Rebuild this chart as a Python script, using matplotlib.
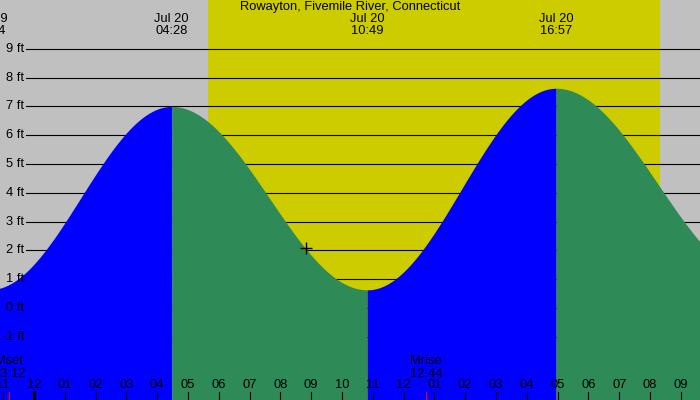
import numpy as np
import matplotlib
matplotlib.use('Agg')
import matplotlib.pyplot as plt

plt.rcParams['font.family'] = ['Liberation Sans', 'DejaVu Sans']
plt.rcParams['font.size'] = 9.3

# tide extremes, hours from midnight Jul 20
tide_times = [-1.433, 4.467, 10.817, 16.95, 23.55]
tide_heights = [0.64, 7.0, 0.63, 7.63, 1.0]
tide_labels = ['Jul 19\n22:34', 'Jul 20\n04:28', 'Jul 20\n10:49', 'Jul 20\n16:57', '']

sunrise = 5.64
sunset = 20.32

moon_times = [-0.8, 12.733]
moon_labels = ['Mset\n23:12', 'Mrise\n12:44']

now_time = 8.83
now_height = 2.09

hours = list(range(-1, 22))
ft_levels = list(range(-1, 10))
title = 'Rowayton, Fivemile River, Connecticut'

W, H = 700, 400
fig = plt.figure(figsize=(7, 4), dpi=100)
ax = fig.add_axes([0, 0, 1, 1])
ax.set_xlim(-34 / 30.8, 666 / 30.8)
ax.set_ylim(-92 / 28.8, 308 / 28.8)
ax.set_facecolor('#c0c0c0')
ax.set_xticks([])
ax.set_yticks([])
for s in ax.spines.values():
    s.set_visible(False)

# daylight
ax.axvspan(sunrise, sunset, color='#cccc00', lw=0, zorder=0)

# level lines
for lv in ft_levels:
    ax.axhline(lv, xmin=26 / W, xmax=1, color='black', lw=0.8, zorder=1)
    ax.text(24 / W, lv, '%d ft' % lv, transform=ax.get_yaxis_transform(),
            ha='right', va='center', zorder=5)

# tide curve, rising blue / falling green
bottom = ax.get_ylim()[0]
for i in range(len(tide_times) - 1):
    t0, t1 = tide_times[i], tide_times[i + 1]
    h0, h1 = tide_heights[i], tide_heights[i + 1]
    t = np.linspace(t0, t1, 300)
    h = h0 + (h1 - h0) * (1 - np.cos(np.pi * (t - t0) / (t1 - t0))) / 2
    col = '#0000ff' if h1 > h0 else '#2e8b57'
    ax.fill_between(t, h, bottom, color=col, lw=0, zorder=2)

ax.plot(now_time, now_height, marker='+', color='black', ms=8, mew=1, zorder=6)

xt = ax.get_xaxis_transform()

def two_lines(x, label, y1, y2):
    parts = label.split('\n')
    for txt, yp in zip(parts, [y1, y2]):
        ax.text(x, 1 - yp / H, txt, transform=xt, ha='center', va='center', zorder=5)

# tide time labels
for t, lab in zip(tide_times, tide_labels):
    if lab:
        two_lines(t, lab, 19.5, 31.5)

fig.text(0.5, 1 - 7 / H, title, ha='center', va='center')

# hour ticks
for hr in hours:
    ax.axvline(hr, ymin=0, ymax=8 / H, color='black',
               lw=2.2 if hr % 24 == 0 else 0.8, zorder=5)
    ax.text(hr, 1 - 385.5 / H, '%02d' % ((hr % 12) or 12), transform=xt,
            ha='center', va='center', zorder=5)

# moon
for t, lab in zip(moon_times, moon_labels):
    ax.axvline(t, ymin=0, ymax=8 / H, color='red', lw=0.8, zorder=5)
    two_lines(t, lab, 361.5, 374)

fig.savefig('out.png', dpi=100)
